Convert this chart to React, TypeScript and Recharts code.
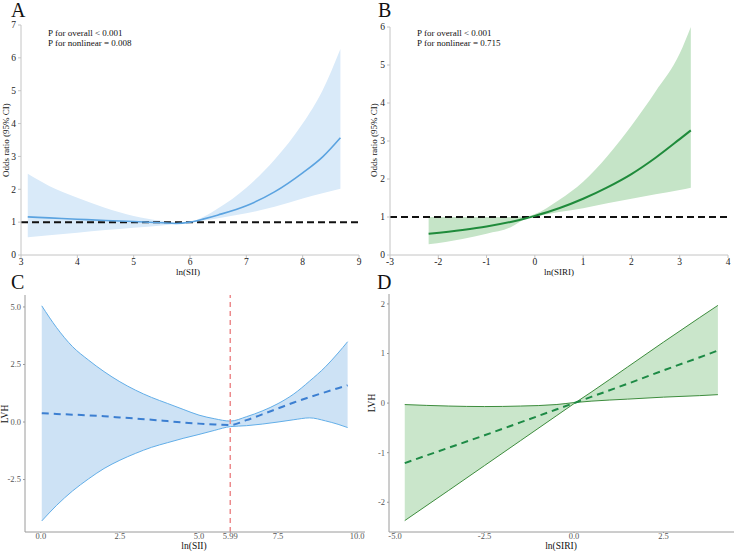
import React from "react";
import {
  ComposedChart,
  Area,
  Line,
  XAxis,
  YAxis,
  ReferenceLine,
} from "recharts";

const SERIF = "Liberation Serif, Times New Roman, serif";

// A: ln(SII) vs odds ratio
const A_X = [3.12, 3.5, 4.0, 4.5, 5.0, 5.5, 5.75, 6.0, 6.25, 6.5, 7.0, 7.5, 8.0, 8.35, 8.67];
const A_OR = [1.16, 1.13, 1.09, 1.05, 1.02, 0.98, 0.96, 1.0, 1.1, 1.22, 1.5, 1.92, 2.5, 2.98, 3.57];
const A_LO = [0.54, 0.6, 0.68, 0.76, 0.83, 0.9, 0.94, 0.99, 1.05, 1.12, 1.27, 1.47, 1.72, 1.88, 2.02];
const A_HI = [2.47, 2.1, 1.74, 1.43, 1.19, 1.04, 0.99, 1.01, 1.17, 1.42, 2.05, 2.9, 4.0, 5.0, 6.27];
const A_X_TICKS = [3, 4, 5, 6, 7, 8, 9];
const A_Y_TICKS = [0, 1, 2, 3, 4, 5, 6, 7];

// B: ln(SIRI) vs odds ratio
const B_X = [-2.2, -1.5, -1.0, -0.5, -0.2, 0.0, 0.5, 1.0, 1.5, 2.0, 2.5, 3.0, 3.23];
const B_OR = [0.56, 0.66, 0.75, 0.87, 0.96, 1.03, 1.23, 1.48, 1.78, 2.13, 2.56, 3.05, 3.28];
const B_LO = [0.28, 0.42, 0.56, 0.73, 0.95, 1.01, 1.13, 1.23, 1.36, 1.48, 1.6, 1.71, 1.77];
const B_HI = [1.0, 1.0, 1.0, 1.0, 1.01, 1.08, 1.45, 1.93, 2.6, 3.4, 4.3, 5.3, 6.0];
const B_X_TICKS = [-3, -2, -1, 0, 1, 2, 3, 4];
const B_Y_TICKS = [0, 1, 2, 3, 4, 5, 6];

// C: ln(SII) vs LVH, knot at 5.99
const C_X = [0.03, 0.5, 1.0, 1.5, 2.0, 2.5, 3.0, 3.5, 4.0, 4.5, 5.0, 5.5, 5.99, 6.5, 7.0, 7.5, 8.0, 8.5, 9.0, 9.4, 9.7];
const C_FIT = [0.38, 0.35, 0.32, 0.29, 0.25, 0.2, 0.15, 0.1, 0.04, -0.02, -0.07, -0.11, -0.13, 0.08, 0.33, 0.59, 0.85, 1.08, 1.3, 1.47, 1.6];
const C_LO = [-4.3, -3.62, -3.0, -2.48, -2.02, -1.66, -1.36, -1.1, -0.9, -0.71, -0.54, -0.36, -0.2, -0.16, -0.09, 0.0, 0.1, 0.18, 0.05, -0.1, -0.24];
const C_HI = [5.05, 4.1, 3.28, 2.7, 2.19, 1.75, 1.38, 1.07, 0.81, 0.55, 0.3, 0.14, 0.04, 0.23, 0.48, 0.8, 1.22, 1.78, 2.4, 3.0, 3.49];
const C_X_TICKS = [0, 2.5, 5, 5.99, 7.5, 10];
const C_Y_TICKS = [-2.5, 0, 2.5, 5];
const C_KNOT = 5.99;

// D: ln(SIRI) vs LVH
const D_X = [-4.73, -3.5, -2.5, -1.5, -0.5, 0.0, 0.5, 1.5, 2.5, 3.5, 4.02];
const D_FIT = [-1.21, -0.9, -0.65, -0.39, -0.13, 0.0, 0.13, 0.39, 0.66, 0.92, 1.06];
const D_LO = [-2.37, -1.76, -1.26, -0.76, -0.26, -0.01, 0.23, 0.73, 1.23, 1.72, 1.97];
const D_HI = [-0.03, -0.06, -0.07, -0.06, -0.03, 0.01, 0.04, 0.08, 0.12, 0.15, 0.17];
const D_X_TICKS = [-5, -2.5, 0, 2.5];
const D_Y_TICKS = [-2, -1, 0, 1, 2];

const rows = (xs: number[], fit: number[], lo: number[], hi: number[]) =>
  xs.map((x, i) => ({ x, fit: fit[i], lo: lo[i], hi: hi[i], band: [lo[i], hi[i]] }));

const plain = (v: number) => String(v);
const fmt1 = (v: number) => (Number.isInteger(v * 2) ? v.toFixed(1) : String(v));

// serif tick text; x ticks hang below the axis, y ticks are centred on the tick
const serifTick =
  (side: "x" | "y", fill: string, size: number, fmt: (v: number) => string) =>
  (props: any) => {
    const { x, y, payload } = props;
    return (
      <text
        x={x}
        y={y}
        dy={side === "x" ? "0.71em" : "0.34em"}
        textAnchor={side === "x" ? "middle" : "end"}
        fill={fill}
        fontSize={size}
        fontFamily={SERIF}
      >
        {fmt(payload.value)}
      </text>
    );
  };

const topAxis = "#c4c4c4";
const botAxis = "#9a9a9a";

const abs = (left: number, top: number): React.CSSProperties => ({
  position: "absolute",
  left,
  top,
});

export default function App() {
  const a = rows(A_X, A_OR, A_LO, A_HI);
  const b = rows(B_X, B_OR, B_LO, B_HI);
  const c = rows(C_X, C_FIT, C_LO, C_HI);
  const d = rows(D_X, D_FIT, D_LO, D_HI);

  return (
    <div
      style={{
        position: "absolute",
        left: 0,
        top: 0,
        width: 734,
        height: 551,
        background: "#fff",
        overflow: "hidden",
        fontFamily: SERIF,
      }}
    >
      {/* A */}
      <div style={abs(0, 0)}>
        <ComposedChart width={367} height={275} data={a} margin={{ top: 25, right: 8, bottom: 0, left: 0 }}>
          <XAxis
            type="number"
            dataKey="x"
            domain={[3, 9]}
            ticks={A_X_TICKS}
            height={20}
            stroke={topAxis}
            tickSize={3}
            tickMargin={0}
            tick={serifTick("x", "#222", 9.5, plain)}
            allowDataOverflow
          />
          <YAxis
            type="number"
            domain={[0, 7]}
            ticks={A_Y_TICKS}
            width={21}
            stroke={topAxis}
            tickSize={3}
            tick={serifTick("y", "#222", 9.5, plain)}
            allowDataOverflow
          />
          <Area type="monotone" dataKey="band" fill="#d9eaf9" fillOpacity={1} stroke="none" isAnimationActive={false} />
          <ReferenceLine y={1} stroke="#111" strokeWidth={2} strokeDasharray="7 4" />
          <Line type="monotone" dataKey="fit" stroke="#5ba3e0" strokeWidth={1.6} dot={false} isAnimationActive={false} />
        </ComposedChart>
      </div>

      {/* B */}
      <div style={abs(367, 0)}>
        <ComposedChart width={367} height={275} data={b} margin={{ top: 27, right: 6, bottom: 0, left: 0 }}>
          <XAxis
            type="number"
            dataKey="x"
            domain={[-3, 4]}
            ticks={B_X_TICKS}
            height={20}
            stroke={topAxis}
            tickSize={3}
            tickMargin={0}
            tick={serifTick("x", "#222", 9.5, plain)}
            allowDataOverflow
          />
          <YAxis
            type="number"
            domain={[0, 6]}
            ticks={B_Y_TICKS}
            width={23}
            stroke={topAxis}
            tickSize={3}
            tick={serifTick("y", "#222", 9.5, plain)}
            allowDataOverflow
          />
          <Area type="monotone" dataKey="band" fill="#c5e4c7" fillOpacity={1} stroke="none" isAnimationActive={false} />
          <ReferenceLine y={1} stroke="#111" strokeWidth={2} strokeDasharray="7 4" />
          <Line type="monotone" dataKey="fit" stroke="#1f8b3b" strokeWidth={2} dot={false} isAnimationActive={false} />
        </ComposedChart>
      </div>

      {/* C */}
      <div style={abs(0, 275)}>
        <ComposedChart width={367} height={276} data={c} margin={{ top: 20, right: 2, bottom: 0, left: 0 }}>
          <XAxis
            type="number"
            dataKey="x"
            domain={[-0.5, 10.25]}
            ticks={C_X_TICKS}
            height={19}
            stroke={botAxis}
            tickSize={1}
            tickMargin={0}
            tick={serifTick("x", "#555", 8.5, fmt1)}
            allowDataOverflow
          />
          <YAxis
            type="number"
            domain={[-4.78, 5.52]}
            ticks={C_Y_TICKS}
            width={25}
            stroke={botAxis}
            tickSize={2}
            tick={serifTick("y", "#555", 8.5, fmt1)}
            allowDataOverflow
          />
          <Area type="monotone" dataKey="band" fill="#cde2f5" fillOpacity={1} stroke="none" isAnimationActive={false} />
          <Line type="monotone" dataKey="lo" stroke="#62aee8" strokeWidth={1} dot={false} isAnimationActive={false} />
          <Line type="monotone" dataKey="hi" stroke="#62aee8" strokeWidth={1} dot={false} isAnimationActive={false} />
          <ReferenceLine x={C_KNOT} stroke="#ec8a8c" strokeWidth={1.5} strokeDasharray="5 4" />
          <Line
            type="monotone"
            dataKey="fit"
            stroke="#3c7fd1"
            strokeWidth={2}
            strokeDasharray="7 5"
            dot={false}
            isAnimationActive={false}
          />
        </ComposedChart>
      </div>

      {/* D */}
      <div style={abs(367, 275)}>
        <ComposedChart width={367} height={276} data={d} margin={{ top: 19, right: 0, bottom: 0, left: 0 }}>
          <XAxis
            type="number"
            dataKey="x"
            domain={[-5.17, 4.47]}
            ticks={D_X_TICKS}
            height={19}
            stroke={botAxis}
            tickSize={1}
            tickMargin={0}
            tick={serifTick("x", "#555", 8.5, fmt1)}
            allowDataOverflow
          />
          <YAxis
            type="number"
            domain={[-2.6, 2.2]}
            ticks={D_Y_TICKS}
            width={22}
            stroke={botAxis}
            tickSize={2}
            tick={serifTick("y", "#555", 8.5, plain)}
            allowDataOverflow
          />
          <Area type="linear" dataKey="band" fill="#cae6cb" fillOpacity={1} stroke="none" isAnimationActive={false} />
          <Line type="monotone" dataKey="lo" stroke="#3d8c3d" strokeWidth={1} dot={false} isAnimationActive={false} />
          <Line type="monotone" dataKey="hi" stroke="#3d8c3d" strokeWidth={1} dot={false} isAnimationActive={false} />
          <Line
            type="linear"
            dataKey="fit"
            stroke="#1d8a45"
            strokeWidth={2}
            strokeDasharray="7 5"
            dot={false}
            isAnimationActive={false}
          />
        </ComposedChart>
      </div>

      {/* panel letters, annotations and axis titles */}
      <svg
        width={734}
        height={551}
        style={{ position: "absolute", left: 0, top: 0, pointerEvents: "none", fontFamily: SERIF }}
      >
        <g fill="#111" fontSize={20}>
          <text x={11} y={17}>A</text>
          <text x={378} y={17}>B</text>
          <text x={11} y={289}>C</text>
          <text x={377} y={289}>D</text>
        </g>
        <g fill="#111" fontSize={9}>
          <text x={48} y={36}>P for overall &lt; 0.001</text>
          <text x={48} y={46}>P for nonlinear = 0.008</text>
          <text x={417} y={36}>P for overall &lt; 0.001</text>
          <text x={417} y={46}>P for nonlinear = 0.715</text>
        </g>
        <g fill="#111" fontSize={9} textAnchor="middle">
          <text x={188} y={275}>ln(SII)</text>
          <text x={559} y={275}>ln(SIRI)</text>
          <text transform="translate(9,140) rotate(-90)">Odds ratio (95% CI)</text>
          <text transform="translate(377,140) rotate(-90)">Odds ratio (95% CI)</text>
        </g>
        <g fill="#111" fontSize={9.5} textAnchor="middle">
          <text x={194} y={549}>ln(SII)</text>
          <text x={561} y={549}>ln(SIRI)</text>
          <text transform="translate(8,414) rotate(-90)">LVH</text>
          <text transform="translate(375,403) rotate(-90)">LVH</text>
        </g>
      </svg>
    </div>
  );
}
